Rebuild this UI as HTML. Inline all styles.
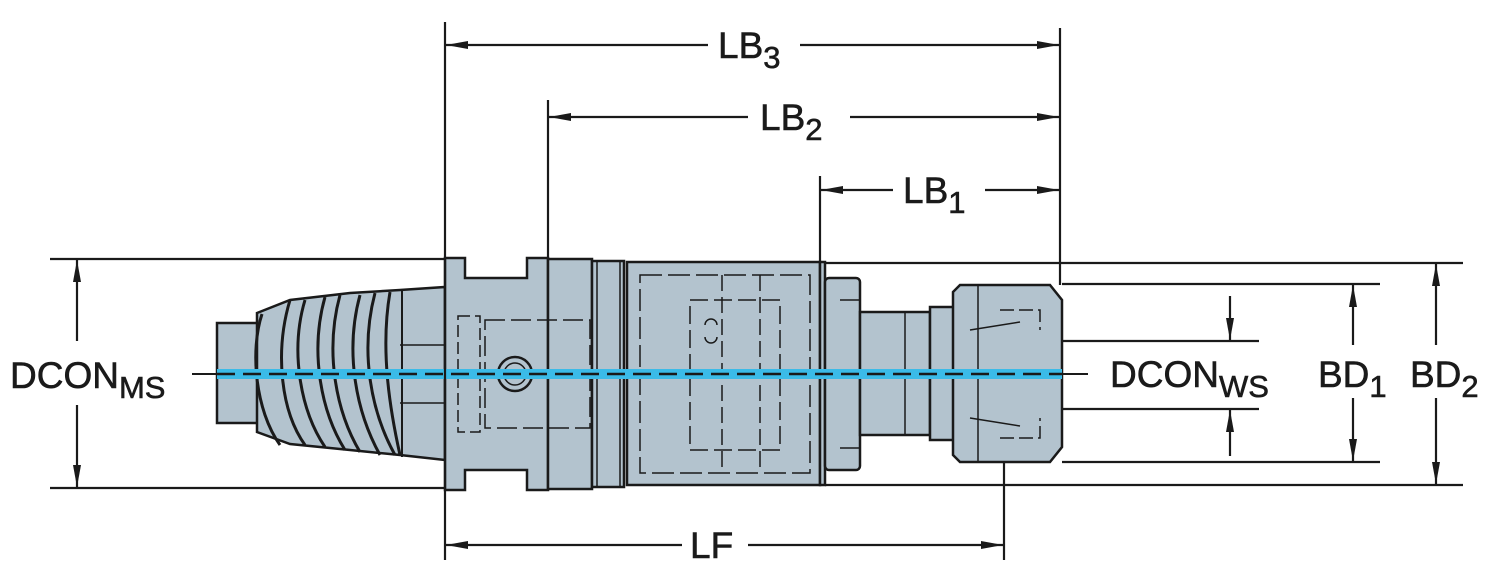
<!DOCTYPE html>
<html><head><meta charset="utf-8"><style>
html,body{margin:0;padding:0;background:#fff;}
svg{display:block;}
text{font-family:"Liberation Sans",Arial,sans-serif;fill:#1a1a1a;}
</style></head><body>
<svg width="1500" height="575" viewBox="0 0 1500 575" xmlns="http://www.w3.org/2000/svg">
<defs>
<marker id="a" viewBox="0 0 22 8" refX="22" refY="4" markerWidth="22" markerHeight="8" markerUnits="userSpaceOnUse" orient="auto-start-reverse"><path d="M0,0 L22,4 L0,8 z" fill="#1a1a1a"/></marker>
</defs>
<g stroke="#1a1a1a" stroke-width="2.5" fill="#b3c3ce">
<rect x="217" y="323" width="42" height="100"/>
<path d="M257,313 L290,300 L350,293 L400,290 L445,287 L445,460 L400,455 L350,450 L290,444 L257,432 Z"/>
<g fill="none" stroke-width="3">
<path d="M262,314 C250,350 255,410 280,445"/>
<path d="M290,300 C275,350 280,410 305,445"/>
<path d="M305,300 C290,350 300,410 325,447"/>
<path d="M325,297 C310,350 320,410 345,450"/>
<path d="M340,295 C325,350 335,410 360,452"/>
<path d="M360,295 C345,350 355,410 380,455"/>
<path d="M375,293 C360,350 370,410 395,455"/>
<path d="M390,292 C380,350 390,410 400,455"/>
<line x1="402" y1="291" x2="402" y2="457" stroke-width="2"/>
</g>
<path d="M445,258 L465,258 L465,278 L527,278 L527,258 L548,258 L548,490 L527,490 L527,470 L465,470 L465,490 L445,490 Z"/>
<rect x="548" y="259" width="44" height="230"/>
<rect x="592" y="261" width="32" height="226"/>
<rect x="627" y="262" width="193" height="223"/>
<rect x="820" y="262" width="5" height="223"/>
<rect x="825" y="278" width="35" height="192" rx="4"/>
<rect x="860" y="312" width="70" height="123"/>
<rect x="930" y="307" width="25" height="133"/>
<path d="M960,285 L1050,285 L1062,300 L1062,447 L1050,462 L960,462 L953,455 L953,292 Z"/>
</g>
<g stroke="#1a1a1a" stroke-width="1.5" fill="none">
<line x1="400" y1="345" x2="445" y2="345"/><line x1="400" y1="403" x2="445" y2="403"/>
<rect x="458" y="316" width="22" height="116" stroke-dasharray="12 5"/>
<rect x="485" y="320" width="105" height="108" stroke-dasharray="20 6"/>
<circle cx="515" cy="374" r="17" stroke-width="2.5"/><circle cx="515" cy="374" r="11"/>
<line x1="597" y1="262" x2="597" y2="486"/>
<line x1="620" y1="262" x2="620" y2="486"/>
<rect x="640" y="275" width="170" height="198" stroke-dasharray="22 6"/>
<rect x="690" y="300" width="90" height="150" stroke-dasharray="18 6"/>
<path d="M705,325 a6,6 0 0 1 12,0 M705,337 a6,6 0 0 0 12,0"/>
<line x1="722" y1="275" x2="722" y2="470" stroke-dasharray="16 6"/>
<line x1="760" y1="275" x2="760" y2="470" stroke-dasharray="16 6"/>
<line x1="840" y1="300" x2="860" y2="300"/><line x1="840" y1="448" x2="860" y2="448"/>
<line x1="905" y1="312" x2="905" y2="435"/>
<line x1="978" y1="285" x2="978" y2="462"/>
<path d="M1000,310 L1040,310 L1040,330 M1000,438 L1040,438 L1040,418" stroke-dasharray="14 5"/>
<line x1="970" y1="330" x2="1020" y2="322"/><line x1="970" y1="418" x2="1020" y2="426"/>
</g>
<rect x="217" y="369" width="845" height="10" fill="#3bbbe8"/>
<line x1="217" y1="374" x2="1062" y2="374" stroke="#1a1a1a" stroke-width="2.5" stroke-dasharray="18 8"/>
<line x1="192" y1="374" x2="217" y2="374" stroke="#1a1a1a" stroke-width="2"/>
<line x1="1062" y1="374" x2="1088" y2="374" stroke="#1a1a1a" stroke-width="2"/>
<g stroke="#1a1a1a" stroke-width="2.2" fill="none">
<line x1="50" y1="259" x2="445" y2="259"/>
<line x1="50" y1="488" x2="445" y2="488"/>
<line x1="445" y1="22" x2="445" y2="560"/>
<line x1="548" y1="100" x2="548" y2="259"/>
<line x1="820" y1="176" x2="820" y2="262"/>
<line x1="1060" y1="28" x2="1060" y2="285"/>
<line x1="1004" y1="462" x2="1004" y2="560"/>
<line x1="825" y1="263" x2="1463" y2="263"/>
<line x1="825" y1="485" x2="1463" y2="485"/>
<line x1="1062" y1="284" x2="1380" y2="284"/>
<line x1="1062" y1="462" x2="1380" y2="462"/>
<line x1="1062" y1="341" x2="1259" y2="341"/>
<line x1="1062" y1="409" x2="1259" y2="409"/>
<line x1="77" y1="341" x2="77" y2="260" marker-end="url(#a)"/>
<line x1="77" y1="405" x2="77" y2="487" marker-end="url(#a)"/>
<line x1="708" y1="45" x2="446" y2="45" marker-end="url(#a)"/>
<line x1="800" y1="45" x2="1059" y2="45" marker-end="url(#a)"/>
<line x1="748" y1="117" x2="549" y2="117" marker-end="url(#a)"/>
<line x1="850" y1="117" x2="1059" y2="117" marker-end="url(#a)"/>
<line x1="893" y1="190" x2="821" y2="190" marker-end="url(#a)"/>
<line x1="985" y1="190" x2="1059" y2="190" marker-end="url(#a)"/>
<line x1="682" y1="545" x2="446" y2="545" marker-end="url(#a)"/>
<line x1="748" y1="545" x2="1003" y2="545" marker-end="url(#a)"/>
<line x1="1353" y1="345" x2="1353" y2="285" marker-end="url(#a)"/>
<line x1="1353" y1="398" x2="1353" y2="461" marker-end="url(#a)"/>
<line x1="1436" y1="345" x2="1436" y2="264" marker-end="url(#a)"/>
<line x1="1436" y1="398" x2="1436" y2="484" marker-end="url(#a)"/>
<line x1="1230" y1="296" x2="1230" y2="340" marker-end="url(#a)"/>
<line x1="1230" y1="456" x2="1230" y2="410" marker-end="url(#a)"/>
</g>
<g stroke="#1a1a1a" stroke-width="0.6">
<text x="10" y="388" font-size="37">DCON<tspan font-size="31" dy="10">MS</tspan></text>
<text x="1110" y="387" font-size="37">DCON<tspan font-size="31" dy="10">WS</tspan></text>
<text x="1318" y="387" font-size="37">BD<tspan font-size="31" dy="10">1</tspan></text>
<text x="1410" y="387" font-size="37">BD<tspan font-size="31" dy="10">2</tspan></text>
<text x="718" y="58" font-size="37">LB<tspan font-size="31" dy="10">3</tspan></text>
<text x="760" y="130" font-size="37">LB<tspan font-size="31" dy="10">2</tspan></text>
<text x="903" y="203" font-size="37">LB<tspan font-size="31" dy="10">1</tspan></text>
<text x="690" y="558" font-size="37">LF</text>
</g>
</svg>
</body></html>
